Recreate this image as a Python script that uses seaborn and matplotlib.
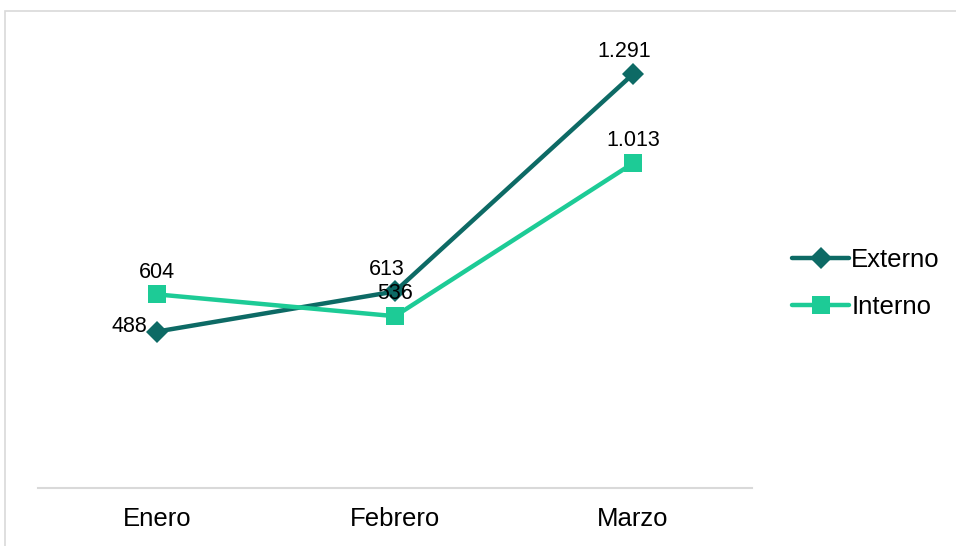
import matplotlib
matplotlib.use("Agg")
import matplotlib.pyplot as plt
import seaborn as sns
import pandas as pd
from matplotlib.patches import Rectangle

meses = ["Enero", "Febrero", "Marzo"]
externo = [488, 613, 1291]
interno = [604, 536, 1013]
etiquetas_externo = ["488", "613", "1.291"]
etiquetas_interno = ["604", "536", "1.013"]

sns.set_theme(style="white")
plt.rcParams['font.family'] = ['Liberation Sans', 'DejaVu Sans']

df = pd.DataFrame({
    "mes": meses * 2,
    "valor": externo + interno,
    "serie": ["Externo"] * 3 + ["Interno"] * 3,
})

colores = {"Externo": "#0D6A65", "Interno": "#1DCB96"}
marcadores = {"Externo": "D", "Interno": "s"}

fig = plt.figure(figsize=(9.56, 5.46), dpi=100)
ax = fig.add_axes([0.0397, 0.1062, 0.7469, 0.822])

sns.lineplot(data=df, x="mes", y="valor", hue="serie", style="serie",
             palette=colores, markers=marcadores, dashes=False,
             linewidth=3.2, markersize=11, markeredgewidth=0, ax=ax)
# squares a bit larger
for ln in ax.lines:
    if ln.get_marker() == "s":
        ln.set_markersize(13)

ax.set_xlim(-0.5, 2.5)
ax.set_ylim(0, 1400)
ax.set_xlabel("")
ax.set_ylabel("")
ax.set_yticks([])
ax.tick_params(axis="x", labelsize=18.5, colors="black", pad=14, length=0)
for s in ["top", "right", "left"]:
    ax.spines[s].set_visible(False)
ax.spines["bottom"].set_color("#D9D9D9")
ax.spines["bottom"].set_linewidth(1.5)

# data labels
for i, (v, t) in enumerate(zip(externo, etiquetas_externo)):
    if i == 0:
        ax.annotate(t, (i, v), xytext=(-7, 4), textcoords="offset points",
                    ha="right", va="center", fontsize=15.5, color="black")
    else:
        ax.annotate(t, (i, v), xytext=(-6, 8.5), textcoords="offset points",
                    ha="center", va="bottom", fontsize=15.5, color="black")
for i, (v, t) in enumerate(zip(interno, etiquetas_interno)):
    ax.annotate(t, (i, v), xytext=(0, 8.5), textcoords="offset points",
                ha="center", va="bottom", fontsize=15.5, color="black")

h, l = ax.get_legend_handles_labels()
leg = ax.legend(h, l, loc="center left", bbox_to_anchor=(1.024, 0.455), frameon=False,
                fontsize=18.5, handlelength=2.2, handletextpad=0.1, labelspacing=0.9,
                labelcolor="black")

fig.patches.append(Rectangle((4.5 / 956, -0.1), 1.2, 1.1 - 11.5 / 546 + 0.0,
                             transform=fig.transFigure, fill=False,
                             edgecolor="#D9D9D9", linewidth=1.2))

fig.savefig("out.png", dpi=100, facecolor="white")
